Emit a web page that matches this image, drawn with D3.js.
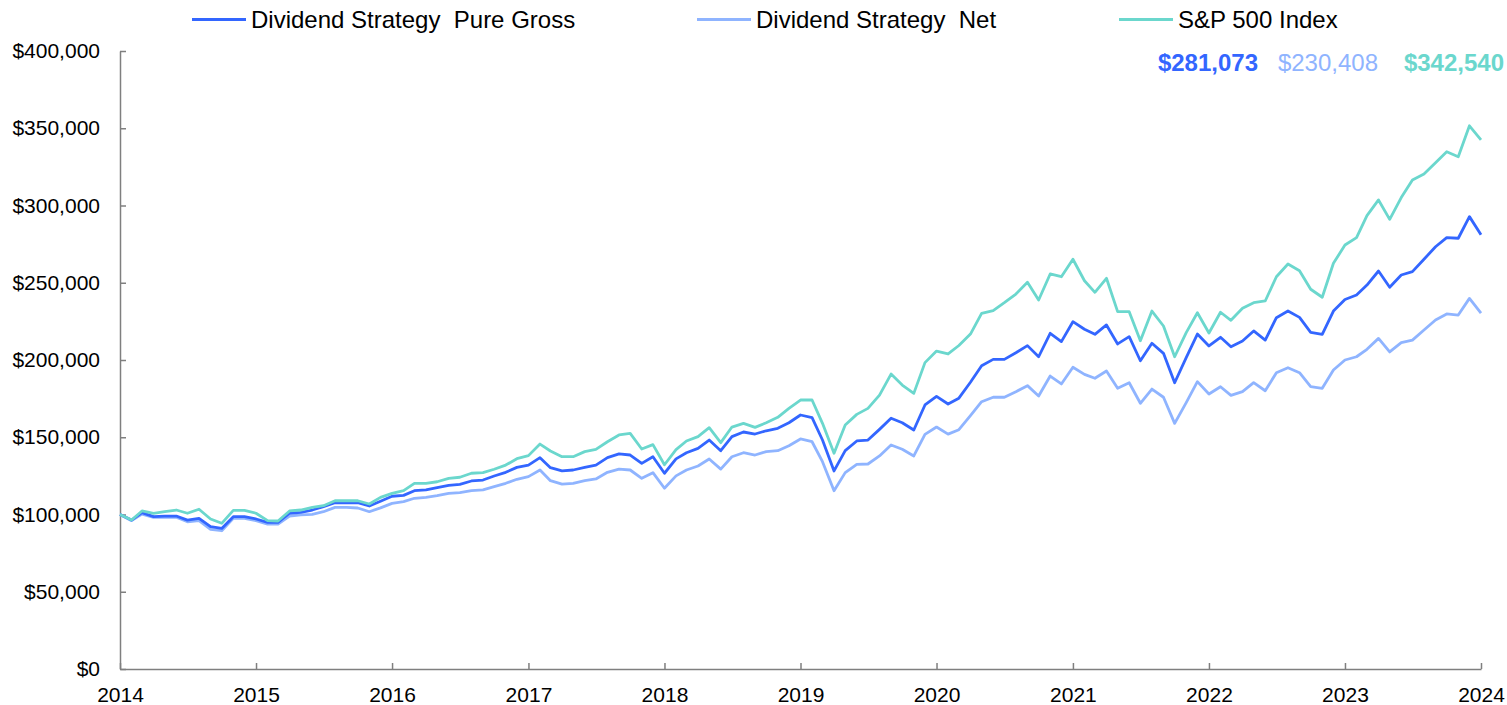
<!DOCTYPE html>
<html>
<head>
<meta charset="utf-8">
<script src="https://cdn.jsdelivr.net/npm/d3@7"></script>
<style>
  html, body { margin: 0; padding: 0; background: #fff; }
  svg { display: block; font-family: "Liberation Sans", Arial, sans-serif; }
</style>
</head>
<body>
<svg id="chart" width="1507" height="705"></svg>
<script>

// growth of $100,000, month-end values in $ thousands (Jan 2014 .. Jan 2024)
const grossValues = [
  100, 96.4, 101.2, 98.6, 99.0, 99.0, 96.4, 97.5, 92.1, 91.0, 98.6, 98.6,
  97.1, 94.9, 94.9, 100.8, 101.4, 102.9, 105.1, 107.6, 107.6, 107.6, 105.5, 108.6,
  111.8, 112.4, 115.4, 115.9, 117.4, 118.9, 119.5, 121.7, 122.3, 124.9, 127.3, 130.5,
  132.0, 136.8, 130.3, 128.2, 128.8, 130.5, 132.0, 136.8, 139.2, 138.5, 133.1, 137.4,
  126.7, 136.0, 140.0, 142.8, 148.2, 141.3, 150.4, 153.4, 152.1, 154.2, 155.8, 159.4,
  164.4, 162.7, 148.2, 128.2, 141.3, 147.6, 148.2, 155.1, 162.3, 159.4, 154.7, 170.9,
  176.5, 171.5, 175.3, 185.6, 196.3, 200.4, 200.4, 204.7, 209.3, 202.1, 217.3, 211.9,
  224.8, 219.9, 216.6, 222.7, 210.4, 215.1, 199.5, 210.8, 204.3, 185.3, 201.5, 216.8,
  209.1, 214.7, 208.6, 212.3, 218.8, 212.9, 227.4, 231.7, 227.6, 217.9, 216.6, 231.7,
  239.2, 242.1, 248.5, 257.6, 247.1, 255.0, 257.2, 265.2, 273.3, 279.2, 278.8, 292.8,
  281.073
];

const netValues = [
  100, 96.0, 100.3, 98.2, 98.2, 98.2, 95.3, 96.0, 90.4, 89.5, 97.5, 97.5,
  96.0, 93.8, 93.8, 99.0, 99.7, 100.1, 101.8, 104.6, 104.6, 104.2, 101.8, 104.3,
  107.2, 108.3, 110.5, 111.1, 112.2, 113.7, 114.1, 115.4, 115.9, 118.0, 120.2, 122.8,
  124.5, 128.8, 121.9, 119.7, 120.2, 121.9, 123.0, 127.3, 129.4, 128.8, 123.4, 127.1,
  117.0, 125.0, 128.8, 131.4, 135.9, 129.4, 137.4, 140.0, 138.5, 140.7, 141.3, 144.5,
  148.9, 147.1, 134.2, 115.4, 127.1, 132.5, 132.7, 137.9, 145.0, 142.2, 137.9, 151.9,
  156.6, 152.0, 154.9, 164.0, 173.0, 175.9, 175.9, 179.5, 183.4, 176.7, 189.6, 184.5,
  195.3, 190.7, 188.2, 192.9, 181.7, 185.3, 172.0, 181.2, 175.9, 159.0, 172.4, 186.0,
  178.0, 182.7, 177.1, 179.5, 185.3, 180.1, 191.8, 195.0, 191.8, 182.7, 181.7, 193.5,
  200.0, 202.1, 206.9, 214.0, 205.2, 211.2, 212.9, 219.4, 225.9, 229.8, 229.1, 239.9,
  230.408
];

const spxValues = [
  100, 96.4, 102.3, 100.8, 101.8, 102.9, 100.8, 103.4, 97.1, 94.3, 102.7, 102.7,
  100.8, 96.0, 95.8, 102.3, 102.9, 104.6, 105.7, 108.9, 108.9, 108.9, 106.8, 111.1,
  113.7, 115.4, 120.2, 120.2, 121.2, 123.4, 124.1, 126.7, 127.1, 129.3, 132.0, 136.1,
  138.1, 145.6, 141.1, 137.4, 137.4, 140.7, 142.2, 147.1, 151.5, 152.5, 142.4, 145.2,
  132.2, 142.0, 147.6, 150.4, 156.2, 146.5, 156.6, 159.0, 156.4, 159.4, 162.9, 168.7,
  174.1, 174.1, 159.0, 139.6, 157.9, 164.8, 168.7, 177.3, 190.9, 183.8, 178.4, 198.3,
  205.8, 203.9, 209.4, 216.8, 230.2, 232.0, 237.1, 242.7, 250.3, 238.8, 255.7, 253.9,
  265.2, 251.3, 243.8, 252.9, 231.3, 231.3, 212.5, 231.7, 222.0, 202.1, 217.7, 230.6,
  217.5, 230.9, 225.7, 233.5, 237.1, 238.2, 253.9, 262.1, 257.8, 245.8, 240.6, 262.6,
  274.4, 279.2, 293.4, 303.6, 291.0, 305.1, 316.5, 320.4, 327.7, 334.8, 331.6, 351.6,
  342.540
];

const seriesNames = ["Dividend Strategy  Pure Gross", "Dividend Strategy  Net", "S&P 500 Index"];
const endLabels = ["$281,073", "$230,408", "$342,540"];
const yTicks = [0, 50000, 100000, 150000, 200000, 250000, 300000, 350000, 400000];

const colors = ["#3366ff", "#8fb4ff", "#6bd7cd"];

// --------------------------------------------------
// SETUP
// --------------------------------------------------

const svg = d3.select("#chart");
const axisColor = "#7f7f7f";

const startMonth = new Date(2014, 0, 1);
const monthOf = i => d3.timeMonth.offset(startMonth, i);

const x = d3.scaleTime()
  .domain([new Date(2014, 0, 1), new Date(2024, 0, 1)])
  .range([120, 1481]);

const y = d3.scaleLinear()
  .domain([0, 400000])
  .range([669, 51]);

const series = [grossValues, netValues, spxValues].map((vals, k) => ({
  name: seriesNames[k],
  color: colors[k],
  values: vals.map((v, i) => ({ date: monthOf(i), value: v * 1000 }))
}));

// --------------------------------------------------
// AXES
// --------------------------------------------------

const yAxis = d3.axisLeft(y)
  .tickValues(yTicks)
  .tickFormat(d3.format("$,.0f"))
  .tickSizeInner(-6)
  .tickSizeOuter(0)
  .tickPadding(20);

const xAxis = d3.axisBottom(x)
  .ticks(d3.timeYear.every(1))
  .tickFormat(d3.timeFormat("%Y"))
  .tickSizeInner(-6)
  .tickSizeOuter(0)
  .tickPadding(18);

const gy = svg.append("g")
  .attr("transform", "translate(120,0)")
  .call(yAxis);

const gx = svg.append("g")
  .attr("transform", "translate(0,669)")
  .call(xAxis);

[gx, gy].forEach(g => {
  g.select(".domain").attr("stroke", axisColor).attr("stroke-width", 1.5);
  g.selectAll(".tick line").attr("stroke", axisColor).attr("stroke-width", 1.5);
  g.selectAll(".tick text")
    .attr("fill", "#000")
    .style("font-size", "21px")
    .style("font-family", "'Liberation Sans', Arial, sans-serif");
});

// --------------------------------------------------
// LINES
// --------------------------------------------------

const line = d3.line()
  .x(d => x(d.date))
  .y(d => y(d.value));

// net first, then gross, index on top
const drawOrder = [series[1], series[0], series[2]];

svg.append("g")
  .attr("class", "lines")
  .selectAll("path")
  .data(drawOrder)
  .enter()
  .append("path")
  .attr("d", d => line(d.values))
  .attr("fill", "none")
  .attr("stroke", d => d.color)
  .attr("stroke-width", 2.8)
  .attr("stroke-linejoin", "round");

// --------------------------------------------------
// LEGEND
// --------------------------------------------------

const legendX = [192, 697, 1119];

const legend = svg.append("g").attr("class", "legend");

legend.selectAll("g")
  .data(series)
  .enter()
  .append("g")
  .attr("transform", (d, i) => `translate(${legendX[i]},0)`)
  .each(function(d) {

    d3.select(this).append("line")
      .attr("x1", 0)
      .attr("x2", 54)
      .attr("y1", 19.5)
      .attr("y2", 19.5)
      .attr("stroke", d.color)
      .attr("stroke-width", 2.8);

    d3.select(this).append("text")
      .attr("x", 59)
      .attr("y", 28)
      .style("font-size", "24px")
      .style("white-space", "pre")
      .attr("fill", "#000")
      .text(d.name);

  });

// --------------------------------------------------
// END VALUES
// --------------------------------------------------

const endX = [1258, 1378, 1504];
const endWeight = ["bold", "normal", "bold"];

svg.append("g")
  .attr("class", "end-values")
  .selectAll("text")
  .data(endLabels)
  .enter()
  .append("text")
  .attr("x", (d, i) => endX[i])
  .attr("y", 71)
  .attr("text-anchor", "end")
  .attr("fill", (d, i) => colors[i])
  .style("font-size", "24px")
  .style("font-weight", (d, i) => endWeight[i])
  .text(d => d);

</script>
</body>
</html>
